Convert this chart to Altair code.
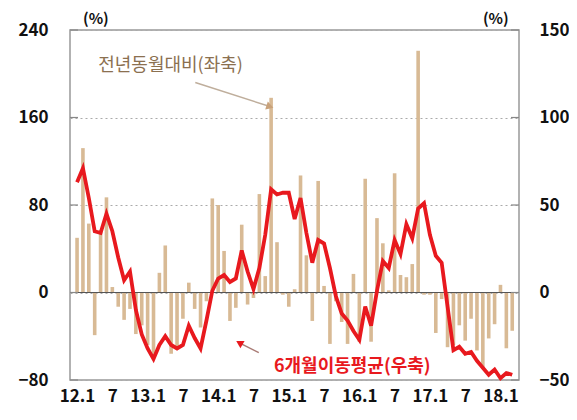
import json
import altair as alt
import pandas as pd

# ---- data ----
months = list(range(75))  # 2012.1 ... 2018.3
yoy = [50, 132, 63, -39, 57, 87, 5, -13, -25, -15,
       -38, -30, -48, -60, 18, 43, -56, -51, -24, 9,
       -15, -32, -8, 86, 80, 38, -26, -14, 62, -11,
       -5, 90, 15, 178, 46, -2, -13, 3, 107, 34,
       -26, 102, 6, -47, -8, -27, -47, 17, -45, 104,
       -45, 68, 45, 2, 109, 16, 14, 26, 221, -2,
       -2, -37, -6, -50, -48, -30, -44, -24, -53, -70,
       -42, -29, 7, -51, -35]
ma6 = [63, 71, 54, 35, 34, 45, 35, 20, 7, 12,
       -10, -24, -32, -38, -30, -25, -30, -32, -30, -19,
       -26, -32, -16, 1, 8, 10, 6, 8, 24, 12,
       2, 14, 33, 59, 56, 57, 57, 42, 54, 34,
       17, 30, 28, 14, -2, -12, -16, -22, -27, -8,
       -19, 1, 18, 14, 30, 22, 39, 31, 48, 51,
       33, 21, 17, -8, -33, -31, -35, -34, -39, -43,
       -47, -44, -49, -46, -47]
tick_idx = [0, 6, 12, 18, 24, 30, 36, 42, 48, 54, 60, 66, 72]
tick_labels = ["12.1", "7", "13.1", "7", "14.1", "7", "15.1", "7",
               "16.1", "7", "17.1", "7", "18.1"]
left_ticks = [-80, 0, 80, 160, 240]
right_ticks = [-50, 0, 50, 100, 150]

ann_text = ["전년동월대비(좌축)", "6개월이동평균(우축)"]
ann_i = [15.9, 46.8]
ann_v = [207, -68]
arrow1 = {"i": [20.1], "v": [192], "i2": [32.8], "v2": [170]}
arrow2 = {"i": [30.9], "v": [-55], "i2": [27.6], "v2": [-46]}
unit_i = [3.2, 71.2]
unit_v = [250, 250]

df = pd.DataFrame({"i": months, "yoy": yoy, "ma": ma6})

FONT = "Noto Sans CJK KR"
XD = [-0.35, 74.3]
LD = [-80, 240]
RD = [-50, 150]
xs = alt.Scale(domain=XD, nice=False, zero=False)
ls = alt.Scale(domain=LD, nice=False)
rs = alt.Scale(domain=RD, nice=False)

label_expr = json.dumps(tick_labels) + "[round(datum.value / 6)]"

x_axis = alt.Axis(values=tick_idx, labelExpr=label_expr, domain=False,
                  ticks=False, grid=False, labelPadding=8, labelFontSize=17,
                  labelFontWeight="bold",
                  labelFont=FONT, labelColor="#111", labelAngle=0,
                  labelOverlap=False, labelFlush=False, title=None)
yl_axis = alt.Axis(values=left_ticks, grid=True, gridDash=[2, 3],
                   gridColor="#aaaaaa", domain=False, ticks=False,
                   labelPadding=22, labelFontSize=17, labelFont=FONT,
                   labelFontWeight="bold", labelColor="#111", title=None)
yr_axis = alt.Axis(orient="right", values=right_ticks, grid=False, domain=False,
                   ticks=False, labelPadding=20, labelFontSize=17,
                   labelFontWeight="bold",
                   labelFont=FONT, labelColor="#111", title=None)


def X(f):
    return alt.X(f, scale=xs, axis=x_axis, title=None)


def YL(f):
    return alt.Y(f, scale=ls, axis=yl_axis, title=None)


bars = alt.Chart(df).mark_bar(color="#d8ba95", size=3.6).encode(
    x=X("i:Q"), y=YL("yoy:Q")
)

zero = alt.Chart(pd.DataFrame({"v": [0]})).mark_rule(color="#555555", strokeWidth=1.2).encode(
    y=YL("v:Q")
)

lt = alt.Chart(pd.DataFrame({"v": left_ticks})).mark_rule(color="#888888", strokeWidth=1.2).encode(
    x=alt.value(0), x2=alt.value(8), y=YL("v:Q")
)
rt = alt.Chart(pd.DataFrame({"v": left_ticks})).mark_rule(color="#888888", strokeWidth=1.2).encode(
    x=alt.value(441), x2=alt.value(449), y=YL("v:Q")
)

line = alt.Chart(df).mark_line(color="#e8191e", strokeWidth=3.8).encode(
    x=X("i:Q"),
    y=alt.Y("ma:Q", scale=rs, axis=yr_axis, title=None),
)

ann_df = pd.DataFrame({"i": ann_i, "v": ann_v, "t": ann_text})
t1 = alt.Chart(ann_df.iloc[[0]]).mark_text(font=FONT, fontSize=18, color="#8b7050").encode(
    x=X("i:Q"), y=YL("v:Q"), text="t:N"
)
t2 = alt.Chart(ann_df.iloc[[1]]).mark_text(font=FONT, fontSize=18, fontWeight="bold",
                                           color="#e8191e").encode(
    x=X("i:Q"), y=YL("v:Q"), text="t:N"
)

a1 = alt.Chart(pd.DataFrame(arrow1)).mark_rule(color="#bfae9c", strokeWidth=1.5).encode(
    x=X("i:Q"), x2="i2:Q", y=YL("v:Q"), y2="v2:Q"
)
h1 = alt.Chart(pd.DataFrame({"i": arrow1["i2"], "v": arrow1["v2"]})).mark_point(
    shape="triangle-up", filled=True, size=70, angle=108, color="#c9a27a", opacity=1
).encode(x=X("i:Q"), y=YL("v:Q"))

a2 = alt.Chart(pd.DataFrame(arrow2)).mark_rule(color="#a87a74", strokeWidth=1.5).encode(
    x=X("i:Q"), x2="i2:Q", y=YL("v:Q"), y2="v2:Q"
)
h2 = alt.Chart(pd.DataFrame({"i": arrow2["i2"], "v": arrow2["v2"]})).mark_point(
    shape="triangle-up", filled=True, size=70, angle=300, color="#e8191e", opacity=1
).encode(x=X("i:Q"), y=YL("v:Q"))

units = alt.Chart(pd.DataFrame({"i": unit_i, "v": unit_v, "t": ["(%)", "(%)"]})).mark_text(
    font=FONT, fontSize=15, fontWeight="bold", color="#111"
).encode(x=X("i:Q"), y=YL("v:Q"), text="t:N")

left = alt.layer(bars, zero, lt, rt, t1, t2, a1, h1, a2, h2, units)
chart = alt.layer(left, line).resolve_scale(y="independent").properties(
    width=449, height=350,
    autosize=alt.AutoSizeParams(type="none"),
    padding={"left": 62, "top": 22, "right": 50, "bottom": 30},
).configure_view(stroke="#999999", strokeWidth=1.5)

chart.save("out.html", embed_options={"renderer": "svg", "actions": False})
